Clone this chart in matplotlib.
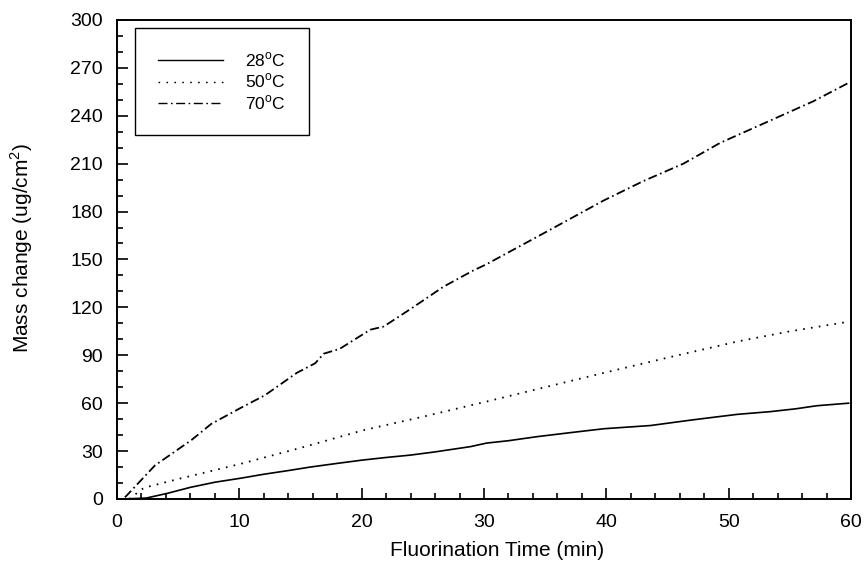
import matplotlib
matplotlib.use('Agg')
import matplotlib.pyplot as plt
from matplotlib.ticker import MultipleLocator

plt.rcParams['font.family'] = ['Liberation Sans', 'DejaVu Sans']
plt.rcParams['mathtext.fontset'] = 'custom'
plt.rcParams['mathtext.rm'] = 'Liberation Sans'
plt.rcParams['lines.scale_dashes'] = False

# values
t28 = [0.5, 2.4, 4.1, 6.0, 8.0, 10.1, 12.0, 14.0, 15.8, 18.0, 20.1, 22.0, 24.0, 26.0,
       28.9, 30.2, 32.0, 34.3, 37.0, 39.8, 43.6, 47.0, 50.7, 53.4, 55.5, 57.2, 59.8]
m28 = [0.0, 0.6, 3.5, 7.3, 10.5, 13.0, 15.5, 17.8, 20.0, 22.3, 24.4, 26.0, 27.5, 29.5,
       32.8, 35.0, 36.5, 39.0, 41.5, 44.0, 46.0, 49.5, 53.0, 54.7, 56.5, 58.4, 60.0]

t50 = [1.0, 2.2, 5.0, 10.1, 15.0, 20.1, 25.0, 30.2, 35.0, 39.8, 45.0, 50.7, 55.0, 59.8]
m50 = [0.0, 7.0, 12.5, 22.0, 32.0, 43.0, 51.5, 61.0, 70.0, 79.0, 88.5, 98.6, 105.0, 111.0]

t70 = [0.65, 3.1, 6.1, 7.7, 10.1, 12.1, 14.7, 16.2, 16.9, 18.2, 20.7, 21.8, 24.0, 26.7,
       29.1, 30.2, 34.3, 39.8, 43.0, 46.3, 49.3, 53.4, 56.9, 59.9]
m70 = [1.0, 21.0, 37.0, 47.0, 57.0, 65.0, 79.0, 85.0, 91.0, 94.0, 106.0, 108.0, 119.0, 133.0,
       143.0, 147.0, 164.0, 187.0, 199.0, 210.0, 223.0, 237.0, 249.0, 261.0]

fig = plt.figure(figsize=(8.64, 5.71), dpi=100)
ax = fig.add_axes([0.1354, 0.1261, 0.8496, 0.839])

ax.plot(t28, m28, color='black', lw=1.2, label='28$^{\\rm o}$C')
ax.plot(t50, m50, color='black', lw=1.3, linestyle=(0, (1.2, 4.5)), label='50$^{\\rm o}$C')
ax.plot(t70, m70, color='black', lw=1.3, linestyle=(0, (6.5, 2.5, 1.2, 2.5)), label='70$^{\\rm o}$C')

ax.set_xlim(0, 60)
ax.set_ylim(0, 300)
ax.xaxis.set_major_locator(MultipleLocator(10))
ax.xaxis.set_minor_locator(MultipleLocator(2))
ax.yaxis.set_major_locator(MultipleLocator(30))
ax.yaxis.set_minor_locator(MultipleLocator(10))
ax.tick_params(which='both', direction='in', top=False, right=False, labelsize=14, width=1.2)
ax.tick_params(which='major', length=8)
ax.tick_params(which='minor', length=4)
ax.tick_params(axis='x', which='major', pad=11)
ax.tick_params(axis='y', which='major', pad=10)
for s in ax.spines.values():
    s.set_linewidth(1.4)

ax.set_xlabel('Fluorination Time (min)', fontsize=15)
ax.set_ylabel('Mass change (ug/cm$^2$)', fontsize=15)
ax.xaxis.set_label_coords(0.518, -0.088)
ax.yaxis.set_label_coords(-0.112, 0.525)

leg = ax.legend(loc='upper left', bbox_to_anchor=(0.02, 0.99), fontsize=12.5, frameon=True,
                fancybox=False, edgecolor='black', handlelength=3.75, handletextpad=1.3,
                borderpad=1.3, labelspacing=0.15, borderaxespad=0.2)
leg.get_frame().set_linewidth(1.0)
leg.get_frame().set_alpha(1)
for h in leg.get_lines():
    h.set_linewidth(1.0)

fig.savefig('out.png', dpi=100)
